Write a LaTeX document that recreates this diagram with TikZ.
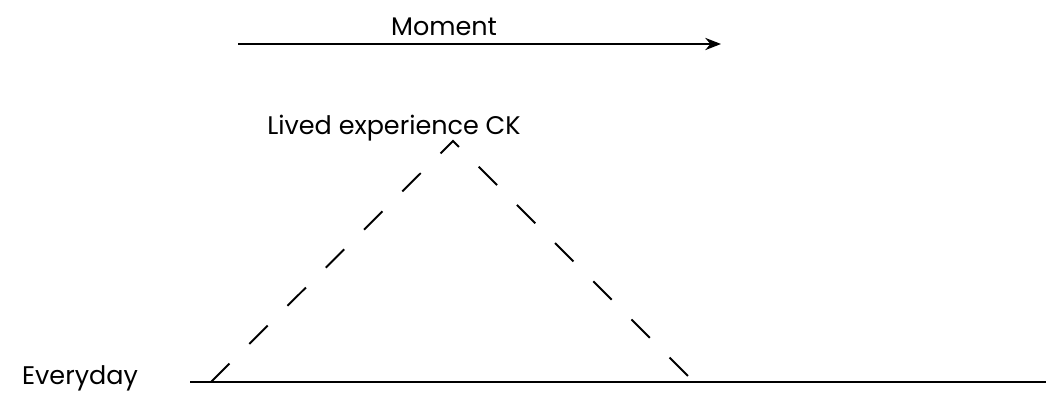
\documentclass[tikz,border=0pt]{standalone}
\usepackage{fontspec}
\setmainfont{Poppins}
\usetikzlibrary{positioning, arrows.meta}

\begin{document}
\begin{tikzpicture}[
  x=0.02cm, y=-0.02cm,
  lbl/.style={font=\fontsize{14.5}{17}\selectfont, inner sep=0pt, anchor=base},
  ground/.style={line width=1.4pt},
  tarr/.style={-{Stealth[length=9pt, width=7pt]}, line width=0.75pt},
  peak/.style={line width=1.1pt, dash pattern=on 0.52cm off 0.56cm},
  >=Stealth
]
\useasboundingbox (0,0) rectangle (1046,396);

% Time arrow
\node[lbl] (moment) at (444,35) {Moment};
\coordinate (tstart) at (238,44);
\coordinate (tend) at (721,44);
\draw[tarr] (tstart) -- (tend);

% Peak of the moment
\node[lbl] (lived) at (394,134) {Lived experience CK};
\coordinate (foot1) at (211,382);
\coordinate (apex) at (453,141);
\coordinate (foot2) at (694,382);
\draw[peak] (foot1) -- (apex) -- (foot2);

% Everyday level
\node[lbl] (everyday) at (80,384) {Everyday};
\coordinate (gleft) at (190,382);
\coordinate (gright) at (1046,382);
\draw[ground] (gleft) -- (gright);

\end{tikzpicture}
\end{document}
